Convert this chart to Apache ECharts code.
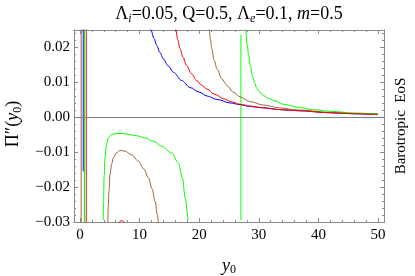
<!DOCTYPE html>
<html>
<head>
<meta charset="utf-8">
<script src="https://cdn.jsdelivr.net/npm/echarts@6/dist/echarts.min.js"></script>
<style>
html,body{margin:0;padding:0;background:#fff;}
#c{width:415px;height:276px;}
</style>
</head>
<body>
<div id="c"></div>
<script>
// ---- data ----
const xMajorTicks = [0, 10, 20, 30, 40, 50];
const xMinorTicks = [2, 4, 6, 8, 12, 14, 16, 18, 22, 24, 26, 28, 32, 34, 36, 38, 42, 44, 46, 48];
const yMajorTicks = [-0.03, -0.02, -0.01, 0, 0.01, 0.02];
const yMinorTicks = [-0.028, -0.026, -0.024, -0.022, -0.018, -0.016, -0.014, -0.012,
  -0.008, -0.006, -0.004, -0.002, 0.002, 0.004, 0.006, 0.008, 0.012, 0.014, 0.016, 0.018, 0.022, 0.024];

// upper branches
const blueUpX = [11.75, 11.93, 12.4, 12.9, 13.4, 14.0, 14.8, 15.7, 17.0, 18.5, 20.0, 21.3, 23.0, 25.2, 26.9, 28.5, 30.8, 33.5, 36.4, 42.0, 46.0, 50.0];
const blueUpY = [0.027, 0.0249, 0.0226, 0.0205, 0.0186, 0.0167, 0.0147, 0.0129, 0.0106, 0.0085, 0.0072, 0.0061, 0.0051, 0.0041, 0.0036, 0.0031, 0.0027, 0.0022, 0.0019, 0.0013, 0.0010, 0.0008];
const redUpX = [15.95, 16.1, 16.4, 16.8, 17.3, 17.9, 18.7, 19.6, 20.4, 21.3, 22.6, 24.1, 25.5, 26.9, 28.5, 30.8, 33.5, 36.4, 42.0, 46.0, 50.0];
const redUpY = [0.027, 0.0249, 0.0222, 0.0196, 0.0171, 0.0148, 0.0125, 0.0105, 0.0092, 0.0081, 0.0066, 0.0053, 0.0044, 0.0037, 0.0032, 0.0027, 0.0022, 0.0019, 0.0013, 0.0010, 0.0008];
const brownUpX = [21.6, 21.7, 21.9, 22.1, 22.5, 23.0, 23.8, 24.7, 25.7, 26.9, 28.5, 30.8, 33.5, 36.4, 42.0, 46.0, 50.0];
const brownUpY = [0.027, 0.0249, 0.0222, 0.0196, 0.0164, 0.0138, 0.0110, 0.0090, 0.0072, 0.0058, 0.0045, 0.0035, 0.0027, 0.0021, 0.0014, 0.0011, 0.0009];
const greenUpX = [27.8, 27.85, 28.05, 28.3, 28.6, 28.9, 29.3, 29.7, 30.2, 30.8, 31.6, 32.5, 34.2, 36.4, 39.0, 42.0, 46.0, 50.0];
const greenUpY = [0.027, 0.0240, 0.0208, 0.0178, 0.0146, 0.0120, 0.0098, 0.0082, 0.0071, 0.0062, 0.0054, 0.0048, 0.0037, 0.0029, 0.0022, 0.0017, 0.0012, 0.00095];

// lower branches
const greenLowX = [3.9, 3.95, 4.05, 4.2, 4.45, 4.76, 5.3, 5.9, 7.0, 8.1, 9.5, 10.9, 12.4, 13.7, 15.4, 16.5, 17.2, 17.65, 18.1];
const greenLowY = [-0.0295, -0.0245, -0.0170, -0.0116, -0.0078, -0.0059, -0.0050, -0.0047, -0.0046, -0.0049, -0.0053, -0.0059, -0.0069, -0.0083, -0.0102, -0.0131, -0.0174, -0.0231, -0.0294];
const brownLowX = [4.6, 4.65, 4.75, 4.85, 5.04, 5.3, 5.6, 6.1, 6.7, 7.56, 8.7, 9.8, 10.7, 11.5, 12.1, 12.6, 13.0, 13.2];
const brownLowY = [-0.032, -0.0308, -0.0255, -0.0215, -0.0164, -0.0135, -0.0116, -0.0102, -0.0095, -0.0097, -0.0108, -0.0126, -0.0148, -0.0174, -0.0205, -0.0241, -0.0280, -0.0320];
const redLowX = [6.45, 6.6, 6.8, 7.0, 7.2, 7.4, 7.55];
const redLowY = [-0.0312, -0.0302, -0.0297, -0.0296, -0.0297, -0.0302, -0.0312];

// near-vertical branches: [x, yFrom, yTo]
const brownVert = [0.2, -0.035, 0.03];
const blueVert = [0.55, -0.0155, 0.03];
const greenVert = [0.75, -0.035, 0.03];
const redVert = [1.05, -0.035, 0.03];
const greenVert2 = [27.0, -0.0295, 0.0236];

const xMin = -1, xMax = 51, yMin = -0.03, yMax = 0.025;

// ---- build ----
const pairs = (xs, ys) => xs.map((x, i) => [x, ys[i]]);
const vert = v => [[v[0], v[1]], [v[0], v[2]]];
const BLUE = '#0000ff', RED = '#ff0000', GREEN = '#00ff00', BROWN = '#996633';
const FONT = 'Liberation Serif';
const FRAME = '#8a8a8a';

function line(data, color, smooth) {
  return {
    type: 'line', data: data, xAxisIndex: 0, yAxisIndex: 0,
    showSymbol: false, symbol: 'none', smooth: smooth ? 0.35 : false,
    smoothMonotone: 'x', clip: true, animation: false, silent: true,
    lineStyle: { color: color, width: 1 }
  };
}

const fmtY = v => {
  const s = Math.abs(v).toFixed(2);
  return v < -1e-9 ? '\u2212' + s : s;
};

function xAx(pos, ticks, len, labels) {
  return {
    type: 'value', position: pos, min: xMin, max: xMax,
    axisLine: { show: labels !== null, onZero: false, lineStyle: { color: FRAME, width: 1 } },
    axisTick: { show: true, inside: true, length: len, customValues: ticks, lineStyle: { color: FRAME, width: 1 } },
    axisLabel: labels ? { show: true, customValues: ticks, fontFamily: FONT, fontSize: 15, color: '#000', margin: 6 } : { show: false },
    splitLine: { show: false }
  };
}
function yAx(pos, ticks, len, labels) {
  return {
    type: 'value', position: pos, min: yMin, max: yMax,
    axisLine: { show: labels !== null, onZero: false, lineStyle: { color: FRAME, width: 1 } },
    axisTick: { show: true, inside: true, length: len, customValues: ticks, lineStyle: { color: FRAME, width: 1 } },
    axisLabel: labels ? { show: true, customValues: ticks, formatter: fmtY, fontFamily: FONT, fontSize: 15, color: '#000', margin: 4 } : { show: false },
    splitLine: { show: false }
  };
}

const series = [
  line(vert(brownVert), BROWN, false),
  line(vert(blueVert), BLUE, false),
  line(vert(greenVert), GREEN, false),
  line(vert(redVert), RED, false),
  line(vert(greenVert2), GREEN, false),
  line(pairs(blueUpX, blueUpY), BLUE, true),
  line(pairs(brownUpX, brownUpY), BROWN, true),
  line(pairs(greenUpX, greenUpY), GREEN, true),
  line(pairs(redUpX, redUpY), RED, true),
  line(pairs(greenLowX, greenLowY), GREEN, true),
  line(pairs(brownLowX, brownLowY), BROWN, true),
  line(pairs(redLowX, redLowY), RED, true)
];
// zero axis line
series[0].markLine = {
  silent: true, symbol: ['none', 'none'], label: { show: false }, animation: false,
  lineStyle: { color: '#808080', width: 1, type: 'solid' },
  data: [{ yAxis: 0 }]
};

const chart = echarts.init(document.getElementById('c'), null, { renderer: 'canvas' });
chart.setOption({
  animation: false,
  backgroundColor: '#fff',
  textStyle: { fontFamily: FONT },
  grid: { left: 74, top: 30, width: 310, height: 192, containLabel: false },
  xAxis: [
    xAx('bottom', xMajorTicks, 4, true),
    xAx('bottom', xMinorTicks, 2, false),
    xAx('top', xMajorTicks, 4, false),
    xAx('top', xMinorTicks, 2, false)
  ],
  yAxis: [
    yAx('left', yMajorTicks, 4, true),
    yAx('left', yMinorTicks, 2, false),
    yAx('right', yMajorTicks, 4, false),
    yAx('right', yMinorTicks, 2, false)
  ],
  series: series,
  graphic: [
    {
      type: 'text', x: 229, y: 14, silent: true,
      style: {
        text: '\u039b{sub|i}=0.05, Q=0.5, \u039b{sub|e}=0.1, {it|m}=0.5',
        fontFamily: FONT, fontSize: 18, fill: '#000', lineHeight: 22,
        align: 'center', verticalAlign: 'middle',
        rich: {
          sub: { fontFamily: FONT, fontSize: 12, fontStyle: 'italic', lineHeight: 12, verticalAlign: 'bottom' },
          it: { fontFamily: FONT, fontSize: 18, fontStyle: 'italic', lineHeight: 22 }
        }
      }
    },
    {
      type: 'text', x: 13, y: 124, rotation: Math.PI / 2, silent: true,
      style: {
        text: '\u03a0\u2033({it|y}{sub|0})',
        fontFamily: FONT, fontSize: 18, fill: '#000', lineHeight: 21,
        align: 'center', verticalAlign: 'middle',
        rich: {
          it: { fontFamily: FONT, fontSize: 18, fontStyle: 'italic', lineHeight: 21 },
          sub: { fontFamily: FONT, fontSize: 12, lineHeight: 11, verticalAlign: 'bottom' }
        }
      }
    },
    {
      type: 'text', x: 229, y: 266, silent: true,
      style: {
        text: '{it|y}{sub|0}',
        fontFamily: FONT, fontSize: 18, fill: '#000', lineHeight: 20,
        align: 'center', verticalAlign: 'middle',
        rich: {
          it: { fontFamily: FONT, fontSize: 18, fontStyle: 'italic', lineHeight: 20 },
          sub: { fontFamily: FONT, fontSize: 12, lineHeight: 11, verticalAlign: 'bottom' }
        }
      }
    },
    {
      type: 'text', x: 401, y: 126, rotation: Math.PI / 2, silent: true,
      style: {
        text: 'Barotropic  EoS',
        fontFamily: FONT, fontSize: 15, fill: '#000',
        align: 'center', verticalAlign: 'middle'
      }
    }
  ]
});
</script>
</body>
</html>
